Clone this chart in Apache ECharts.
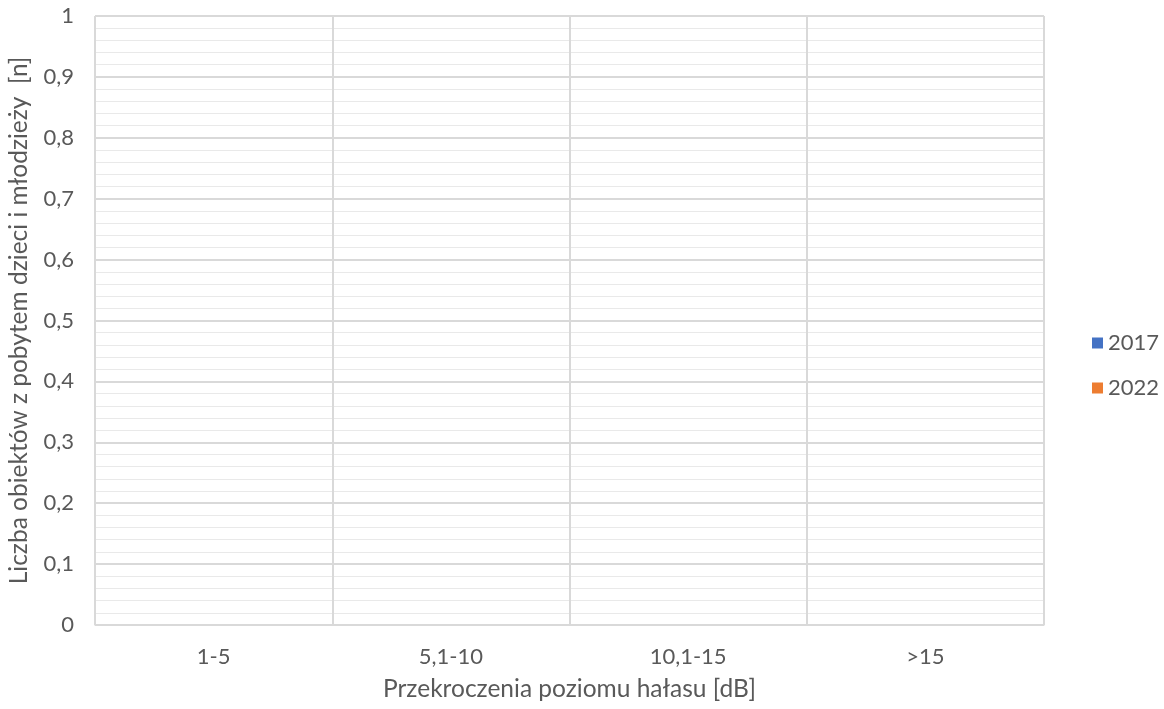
<!DOCTYPE html>
<html>
<head>
<meta charset="utf-8">
<script src="https://cdn.jsdelivr.net/npm/echarts@6/dist/echarts.min.js"></script>
<style>
  html, body { margin: 0; padding: 0; background: #fff; }
  #chart { width: 1164px; height: 709px; }
</style>
</head>
<body>
<div id="chart"></div>
<script>
// Noise-exceedance classes and number of facilities for each survey year
const categories = ['1-5', '5,1-10', '10,1-15', '>15'];
const values2017 = [0, 0, 0, 0];
const values2022 = [0, 0, 0, 0];
const seriesNames = ['2017', '2022'];

const FONT = 'Lato, "Open Sans", sans-serif';
const TEXT = '#595959';
const GRID_MAJOR = '#d9d9d9';
const GRID_MINOR = '#e9e9e9';

const chart = echarts.init(document.getElementById('chart'));
chart.setOption({
  animation: false,
  textStyle: { fontFamily: FONT },
  grid: {
    left: 95, right: 120, top: 16, bottom: 84,
    outerBoundsMode: 'none',
    containLabel: false,
    show: true, borderColor: GRID_MAJOR, borderWidth: 1
  },
  legend: {
    orient: 'vertical',
    left: 1087,
    top: 327,
    itemWidth: 11,
    itemHeight: 11,
    itemGap: 23,
    icon: 'rect',
    data: seriesNames,
    textStyle: { color: TEXT, fontSize: 22, fontFamily: FONT }
  },
  xAxis: {
    type: 'category',
    data: categories,
    boundaryGap: true,
    name: 'Przekroczenia poziomu hałasu [dB]',
    nameLocation: 'middle',
    nameGap: 52,
    nameTextStyle: { color: TEXT, fontSize: 24.5, fontFamily: FONT },
    axisLine: { lineStyle: { color: GRID_MAJOR, width: 1 } },
    axisTick: { show: false },
    axisLabel: { color: TEXT, fontSize: 22, margin: 21, fontFamily: FONT },
    splitLine: { show: true, lineStyle: { color: GRID_MAJOR, width: 2 } }
  },
  yAxis: {
    type: 'value',
    min: 0, max: 1, interval: 0.1,
    name: 'Liczba obiektów z pobytem dzieci i młodzieży  [n]',
    nameLocation: 'middle',
    nameRotate: 90,
    nameGap: 63,
    nameTextStyle: { color: TEXT, fontSize: 24.5, fontFamily: FONT },
    axisLine: { show: false },
    axisTick: { show: false },
    axisLabel: {
      color: TEXT, fontSize: 22, margin: 21, fontFamily: FONT,
      formatter: v => {
        const r = Math.round(v * 10) / 10;
        if (r === 0) return '0';
        if (r === 1) return '1';
        return r.toFixed(1).replace('.', ',');
      }
    },
    splitLine: { show: true, lineStyle: { color: GRID_MAJOR, width: 2 } },
    minorTick: { show: false, splitNumber: 5 },
    minorSplitLine: { show: true, lineStyle: { color: GRID_MINOR, width: 1 } }
  },
  series: [
    {
      name: seriesNames[0], type: 'bar', data: values2017,
      itemStyle: { color: '#4472C4' }, barGap: '-10%'
    },
    {
      name: seriesNames[1], type: 'bar', data: values2022,
      itemStyle: { color: '#ED7D31' }
    }
  ]
});
</script>
</body>
</html>
